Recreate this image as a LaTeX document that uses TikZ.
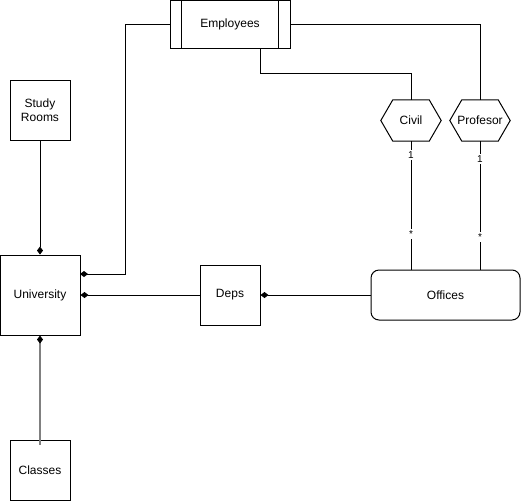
\documentclass[tikz,border=0pt]{standalone}
\usepackage{fontspec}
\setmainfont{Liberation Sans}
\usetikzlibrary{arrows.meta}
\definecolor{linegray}{RGB}{128,128,128}
\tikzset{
  box/.style={draw, line width=1pt, inner sep=0pt, align=center, font=\fontsize{12}{14}\selectfont},
  hexbase/.style={inner sep=0pt, minimum width=60pt, minimum height=41pt, font=\fontsize{12}{14}\selectfont},
  hexline/.style={line width=1pt},
  conn/.style={line width=1pt},
  dtip/.style={-{Diamond[length=8pt,width=6pt,line width=1pt,color=black,fill=black]}},
  mult/.style={fill=white, inner sep=1.5pt, text=black, font=\fontsize{10}{11}\selectfont}
}
\begin{document}
\begin{tikzpicture}[x=1pt,y=-1pt]
\useasboundingbox (0,0) rectangle (521,501);
% nodes
\node[box, minimum width=120pt, minimum height=48pt] (emp) at (230,24) {Employees};
\draw[line width=1pt] ([xshift=12pt]emp.north west) -- ([xshift=12pt]emp.south west);
\draw[line width=1pt] ([xshift=-12pt]emp.north east) -- ([xshift=-12pt]emp.south east);
\node[box, minimum width=60pt, minimum height=60pt] (study) at (40,110) {Study\\Rooms};
\node[box, minimum width=80pt, minimum height=80pt] (univ) at (40,295) {University};
\node[box, minimum width=60pt, minimum height=60pt] (classes) at (40,470) {Classes};
\node[box, minimum width=60pt, minimum height=60pt] (deps) at (230,295) {Deps};
\node[box, rounded corners=8pt, minimum width=149pt, minimum height=50pt] (off) at (445.5,295) {Offices};
\node[hexbase] (civil) at (411,120.5) {Civil};
\draw[hexline] ([xshift=12pt]civil.north west) -- ([xshift=-12pt]civil.north east) -- (civil.east) -- ([xshift=-12pt]civil.south east) -- ([xshift=12pt]civil.south west) -- (civil.west) -- cycle;
\node[hexbase] (prof) at (480,120.5) {Profesor};
\draw[hexline] ([xshift=12pt]prof.north west) -- ([xshift=-12pt]prof.north east) -- (prof.east) -- ([xshift=-12pt]prof.south east) -- ([xshift=12pt]prof.south west) -- (prof.west) -- cycle;
% helper coordinates
\coordinate (empbot) at (260,48);
\coordinate (univr1) at (80,274);
% connectors
\draw[conn, dtip] (study.south) -- (univ.north);
\draw[conn, dtip, line width=2pt, draw=linegray] ([yshift=-5pt]classes.north) -- (univ.south);
\draw[conn, dtip] (deps.west) -- (univ.east);
\draw[conn, dtip] (off.west) -- (deps.east);
\draw[conn, dtip] (emp.west) -| (125,274) -- (univr1);
\draw[conn] (emp.east) -| (prof.north);
\draw[conn] (empbot) -- (260,73) -| (civil.north);
\draw[conn] (civil.south) -- (civil.south |- off.north);
\draw[conn] (prof.south) -- (prof.south |- off.north);
\node[mult] (c1) at (411,155) {1};
\node[mult] (cs) at (411,234) {*};
\node[mult] (p1) at (480,159) {1};
\node[mult] (ps) at (480,237) {*};
\end{tikzpicture}
\end{document}
